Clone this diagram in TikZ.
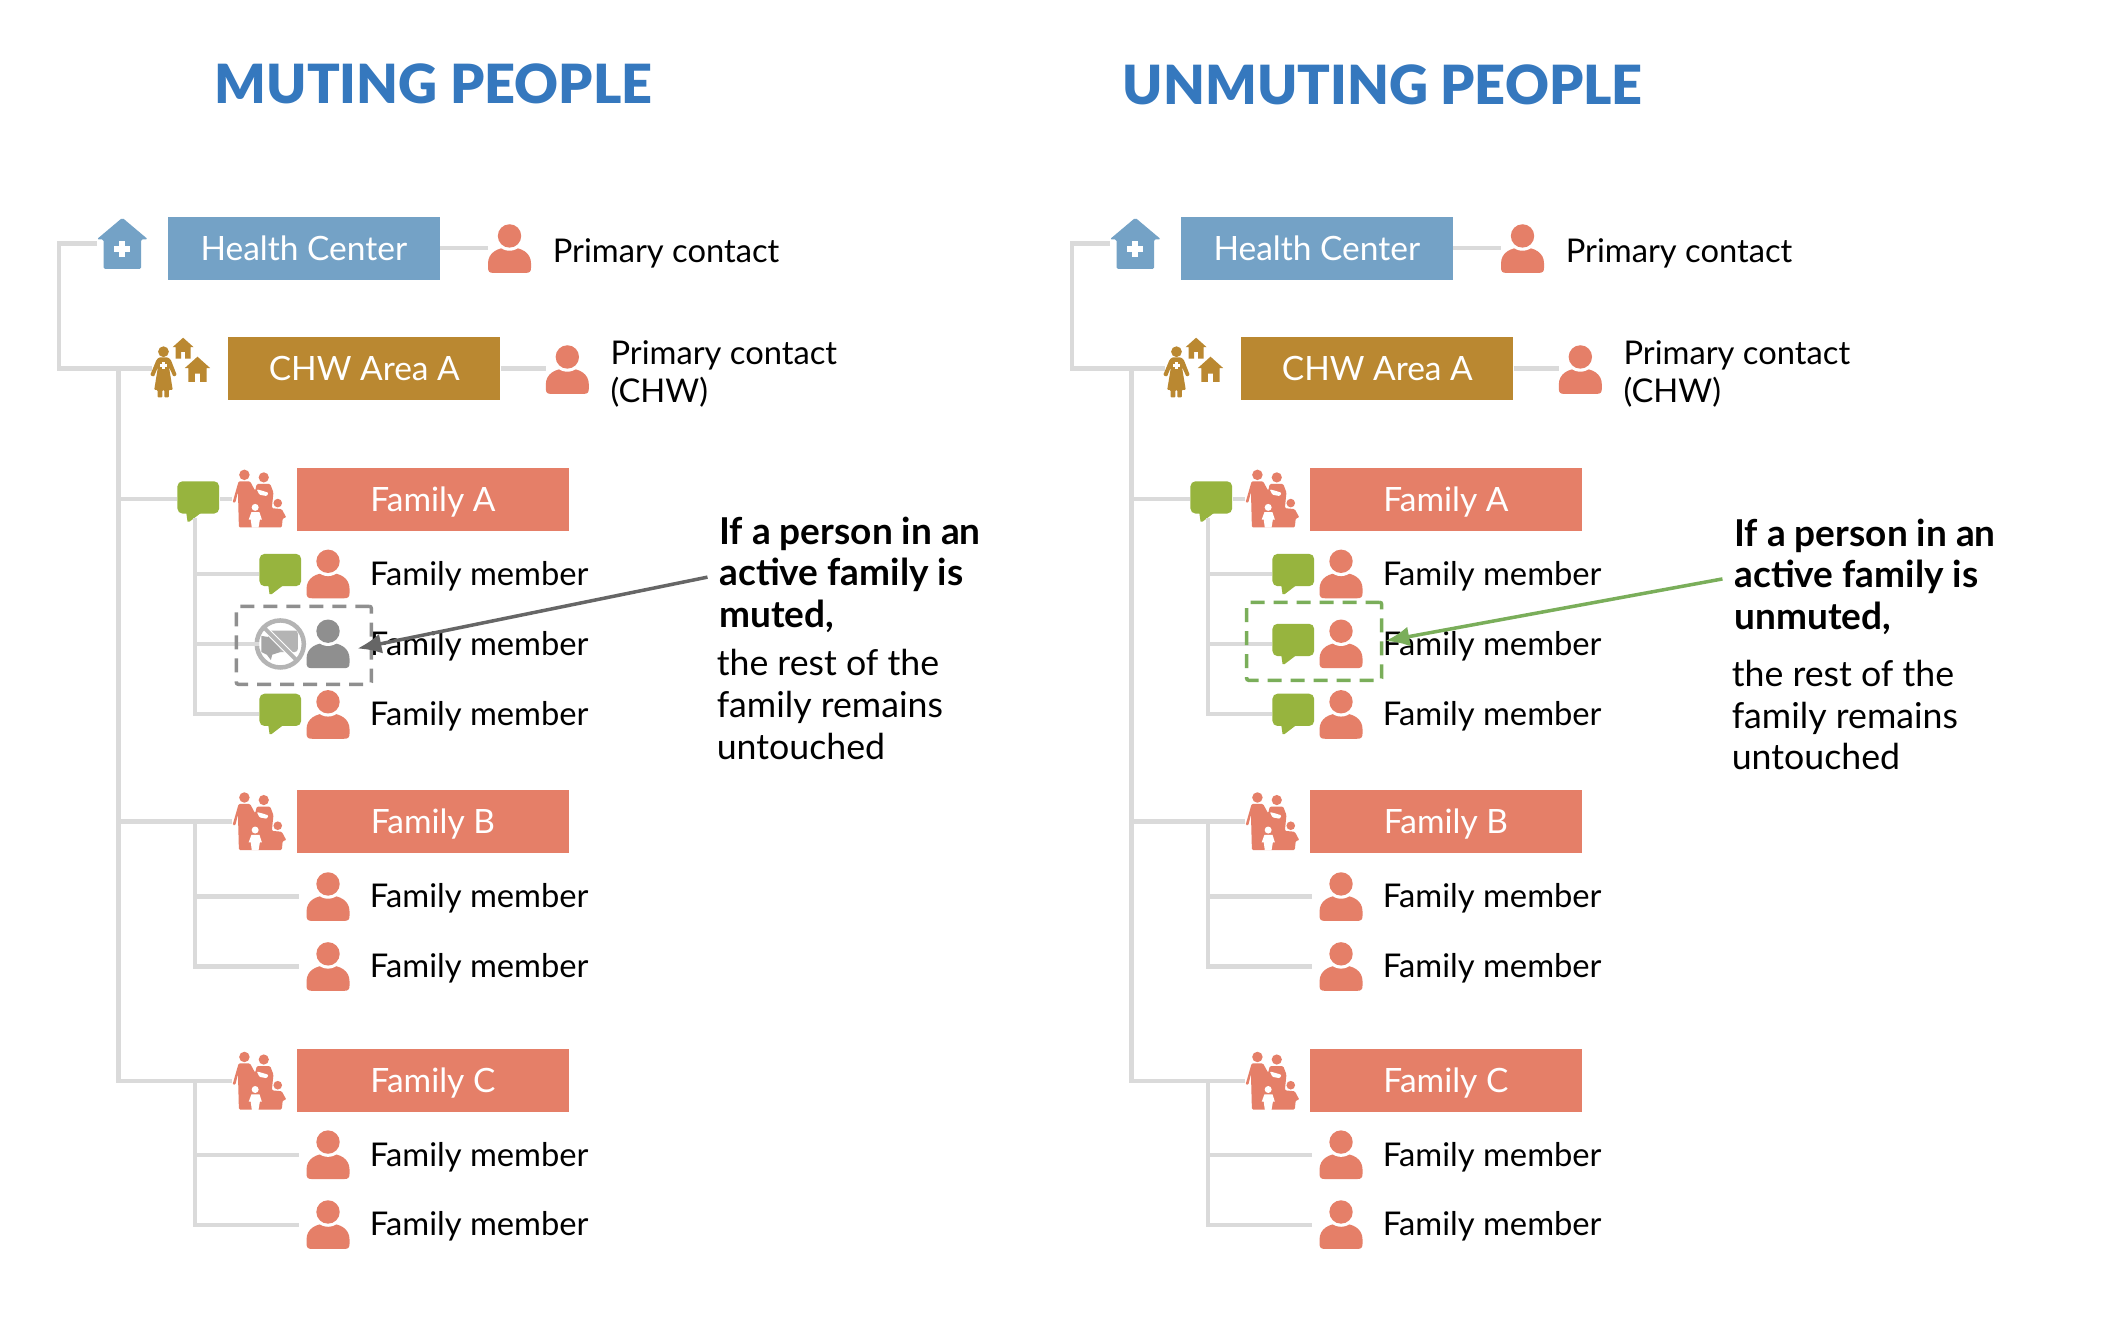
\documentclass[tikz,border=0pt]{standalone}
\usepackage{fontspec}
\setmainfont{Lato}
\newfontfamily\heavyfont{Lato Black}
\usetikzlibrary{arrows.meta}
\definecolor{titleblue}{HTML}{3578BE}
\definecolor{hcblue}{HTML}{74A2C6}
\definecolor{chwgold}{HTML}{BA8831}
\definecolor{salmon}{HTML}{E57F68}
\definecolor{leaf}{HTML}{97B43E}
\definecolor{linkgray}{HTML}{DADADA}
\definecolor{mutegray}{HTML}{8F8F8F}
\definecolor{palegray}{HTML}{B4B4B4}
\definecolor{arrowgray}{HTML}{666666}
\definecolor{dashgreen}{HTML}{7AAE5A}
\tikzset{
  x=1.3444pt,y=-1.3444pt,
  link/.style={draw=linkgray,line width=4.5pt},
  banner/.style={minimum width=272pt,minimum height=63pt,inner sep=0pt,text=white,text height=26pt,text depth=2pt,font=\fontsize{33.5}{36}\selectfont},
  lbl/.style={anchor=west,inner sep=0pt,yshift=-1.3pt,text=black,font=\fontsize{32.7}{38}\selectfont,align=left},
  notebold/.style={anchor=west,inner sep=0pt,text=black,font=\fontsize{37}{41.7}\selectfont\bfseries,align=left},
  noterest/.style={anchor=west,inner sep=0pt,text=black,font=\fontsize{35.7}{41.7}\selectfont,align=left},
  heading/.style={inner sep=0pt,text=titleblue,font=\fontsize{54}{60}\heavyfont},
  dashbox/.style={minimum width=135pt,minimum height=78pt,inner sep=0pt,draw=#1,line width=3.5pt,dash pattern=on 14pt off 9pt,rounded corners=2pt},
  slot/.style={inner sep=0pt,minimum width=#1*1.3444pt,minimum height=#1*1.3444pt},
  pics/person/.style={code={
    \fill[#1] (-16,11) .. controls (-16,3) and (-9,-1) .. (0,-1) .. controls (9,-1) and (16,3) .. (16,11)
      -- (16,14) .. controls (16,17) and (15,18) .. (12,18) -- (-12,18) .. controls (-15,18) and (-16,17) .. (-16,14) -- cycle;
    \fill[white] (0,-9.5) circle[radius=11];
    \fill[#1] (0,-9.5) circle[radius=8.7];
  }},
  pics/bubble/.style={code={
    \fill[leaf,rounded corners=5pt] (-15.5,-15) rectangle (15.5,9);
    \fill[leaf] (-9,8) -- (-8,15) -- (-6.5,15) -- (2,8.5) -- cycle;
  }},
  pics/mutedbubble/.style={code={
    \fill[palegray,rounded corners=3pt] (-9,-10) rectangle (13,6);
    \fill[mutegray!80] (-14,-6) -- (-2,-4) -- (0,6) -- (-6,8) -- (-7,12) -- (-10,8) -- (-14,6) -- cycle;
    \draw[white,line width=6pt] (-12,-12) -- (12,12);
    \draw[palegray,line width=4pt] (-13,-13) -- (13,13);
    \draw[palegray,line width=4.5pt] (0,0) circle[radius=17.5];
  }},
  pics/clinic/.style={code={
    \fill[hcblue,rounded corners=1.5pt] (-19,-3) -- (0,-19) -- (19,-3) -- (14,-3) -- (14,19) -- (-14,19) -- (-14,-3) -- cycle;
    \fill[white] (-2.3,-2) rectangle (2.3,10);
    \fill[white] (-6,1.7) rectangle (6,6.3);
  }},
  pics/minihouse/.style={code={
    \fill[chwgold] (-#1,-0.1*#1) -- (0,-#1) -- (#1,-0.1*#1) -- (0.72*#1,-0.1*#1) -- (0.72*#1,#1) -- (0.2*#1,#1) -- (0.2*#1,0.35*#1)
      -- (-0.2*#1,0.35*#1) -- (-0.2*#1,#1) -- (-0.72*#1,#1) -- (-0.72*#1,-0.1*#1) -- cycle;
  }},
  pics/chwicon/.style={code={
    \fill[chwgold] (-12.4,-12.4) circle[radius=4];
    \fill[chwgold,rounded corners=1pt] (-15.5,-8.2) -- (-9.3,-8.2) -- (-7,-6.5) -- (-2.5,5) -- (-5,6.2) -- (-8.3,-1) -- (-5.5,16) -- (-8.4,16) -- (-8.4,21.6) -- (-11.8,21.6) -- (-11.8,16) -- (-13.2,16) -- (-13.2,21.6) -- (-16.8,21.6) -- (-16.8,16) -- (-19.3,16) -- (-16.5,-1) -- (-19.5,6.2) -- (-22.3,5) -- (-17.5,-6.5) -- cycle;
    \fill[white] (-13.4,-4.6) rectangle (-11.4,0.6);
    \fill[white] (-15,-3) rectangle (-9.8,-1);
    \pic at (2.2,-15) {minihouse=7.8};
    \pic at (12.9,0.7) {minihouse=9.4};
  }},
  pics/kin/.style={code={
    \fill[salmon] (-11.2,-17.8) circle[radius=3.9];
    \fill[salmon] (3.2,-15.9) circle[radius=3.8];
    \fill[salmon] (13.6,3.2) circle[radius=3.2];
    \fill[salmon,rounded corners=1.2pt] (-15.5,-13) -- (-7,-13) -- (-3.2,-6) -- (-2,-11) -- (8,-11) -- (10.4,-4.7) -- (9.2,7) -- (16.6,7.7) -- (20,14) -- (17.3,14.5) -- (16.6,21.3) -- (-15.3,21.3) -- (-16,-5) -- (-18,3) -- (-20,2.7) -- cycle;
    \fill[white] (-3.2,6.4) circle[radius=2.6];
    \fill[white] (-8,15.5) -- (-6,10) -- (0,10) -- (1.8,15.5) -- (0.3,15.5) -- (-0.7,21.5) -- (-5.7,21.5) -- (-6.5,15.5) -- cycle;
    \fill[white,rounded corners=1pt] (-2,-7) -- (2,-6) -- (6.7,-4.5) -- (5.5,-2) -- (0,-3) -- cycle;
  }},
}
% one tree; #1 prefix, #2 shift in picture units, #3 icon of row 2, #4 colour of person in row 2
\newcommand{\treepanel}[4]{%
\begin{scope}[shift={(#2,0)},name prefix=#1-]
  % top
  \node[banner,fill=hcblue] (hc) at (226,184.5) {Health Center};
  \node[slot=38] (clinic) at (91,181) {};
  \pic at (clinic) {clinic};
  \node[slot=32] (hcp) at (379,185) {};
  \pic at (hcp) {person=salmon};
  \node[lbl] (hct) at (411,187.5) {Primary contact};
  \node[banner,fill=chwgold] (chw) at (271,274) {CHW Area A};
  \node[slot=42] (chwi) at (134,274) {};
  \pic at (chwi) {chwicon};
  \node[slot=32] (chwp) at (422,275) {};
  \pic at (chwp) {person=salmon};
  \node[lbl] (chwt) at (454,277) {Primary contact\\(CHW)};
  % families
  \node[banner,fill=salmon] (fa) at (322,371.5) {Family A};
  \node[slot=40] (fai) at (193,371) {};
  \pic at (fai) {kin};
  \node[slot=32] (fab) at (147.5,373) {};
  \pic at (fab) {bubble};
  \node[banner,fill=salmon] (fb) at (322,611) {Family B};
  \node[slot=40] (fbi) at (193,611) {};
  \pic at (fbi) {kin};
  \node[banner,fill=salmon] (fc) at (322,804) {Family C};
  \node[slot=40] (fci) at (193,804) {};
  \pic at (fci) {kin};
  % members of A
  \node[slot=32] (a1) at (244,427) {};
  \pic at (a1) {person=salmon};
  \node[slot=32] (a1b) at (208.5,427) {};
  \pic at (a1b) {bubble};
  \node[lbl] (a1t) at (275,427.5) {Family member};
  \node[slot=32] (a2) at (244,479) {};
  \pic at (a2) {person=#4};
  \node[slot=32] (a2b) at (208.5,479) {};
  \pic at (a2b) {#3};
  \node[lbl] (a2t) at (275,479.5) {Family member};
  \node[slot=32] (a3) at (244,531.5) {};
  \pic at (a3) {person=salmon};
  \node[slot=32] (a3b) at (208.5,531) {};
  \pic at (a3b) {bubble};
  \node[lbl] (a3t) at (275,531.5) {Family member};
  % members of B and C
  \foreach \nm/\yy in {b1/667,b2/719,c1/859,c2/911}{
    \node[slot=32] (\nm) at (244,\yy) {};
    \pic at (\nm) {person=salmon};
    \node[lbl] (\nm t) at (275,\yy+0.5) {Family member};
  }
  % connectors
  \coordinate (trunk) at (88,274);
  \coordinate (left) at (44,274);
  \coordinate (fat) at (145,385);
  \coordinate (fbt) at (145,611);
  \coordinate (fct) at (145,804);
  \draw[link] (hc.east) -- (hc.east -| hcp.west);
  \draw[link] (chw.east) -- (chw.east -| chwp.west);
  \draw[link] (clinic.west) -- (clinic.west -| left) -- (left) -- (chwi.west);
  \draw[link] (trunk) |- (fci.west);
  \draw[link] (trunk |- fai.west) -- (fab.west |- fai.west);
  \draw[link] (fab.east |- fai.west) -- (fai.west);
  \draw[link] (trunk |- fbi.west) -- (fbi.west);
  \draw[link] (fat) -- (fat |- a3b.west) -- (a3b.west);
  \draw[link] (fat |- a1b.west) -- (a1b.west);
  \draw[link] (fat |- a2b.west) -- (a2b.west);
  \draw[link,shorten >=7pt] (fbt) -- (fbt |- b2.west) -- (b2.west);
  \draw[link,shorten >=7pt] (fbt |- b1.west) -- (b1.west);
  \draw[link,shorten >=7pt] (fct) -- (fct |- c2.west) -- (c2.west);
  \draw[link,shorten >=7pt] (fct |- c1.west) -- (c1.west);
\end{scope}}
\begin{document}
\begin{tikzpicture}
\useasboundingbox (0,0) rectangle (1568,991);
\fill[white] (0,0) rectangle (1568,991);
\node[heading] (title1) at (322.5,62) {MUTING PEOPLE};
\node[heading] (title2) at (1028.5,63) {UNMUTING PEOPLE};
\treepanel{L}{0}{mutedbubble}{mutegray}
\treepanel{R}{753.5}{bubble}{salmon}
% left note
\node[dashbox=mutegray] (dashL) at (226,480) {};
\node[notebold] (noteL) at (535,427.5) {If a person in an\\active family is\\muted,};
\node[noterest] (restL) at (533,524) {the rest of the\\family remains\\untouched};
\draw[arrowgray,line width=3.5pt,shorten <=12pt,shorten >=-16pt,-{Latex[length=24pt,width=20pt]}] (noteL.west) -- (dashL.east);
% right note
\node[dashbox=dashgreen] (dashR) at (977.5,477) {};
\node[notebold] (noteR) at (1290,429) {If a person in an\\active family is\\unmuted,};
\node[noterest] (restR) at (1288,532) {the rest of the\\family remains\\untouched};
\draw[dashgreen,line width=3.5pt,shorten <=12pt,shorten >=2pt,-{Latex[length=24pt,width=20pt]}] (noteR.west) -- (dashR.east);
\end{tikzpicture}
\end{document}
